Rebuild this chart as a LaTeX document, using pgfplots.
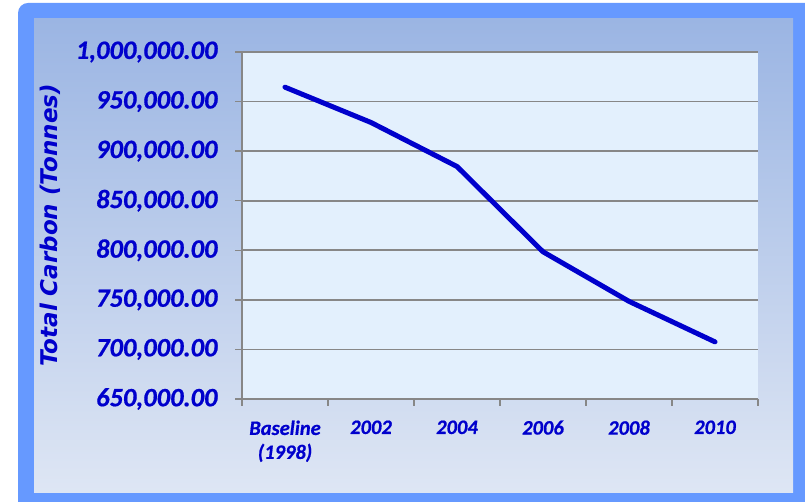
\documentclass[border=0pt]{standalone}
\usepackage{fontspec}
\usepackage{pgfplots}
\pgfplotsset{compat=1.18}
\setmainfont{Carlito}
\newfontfamily\tickfont[FakeBold=0.7]{Carlito Bold Italic}
\newfontfamily\dejavu[BoldFont={DejaVu Sans Bold},ItalicFont={DejaVu Sans Oblique},BoldItalicFont={DejaVu Sans Bold Oblique}]{DejaVu Sans}
\definecolor{outerblue}{HTML}{6699FF}
\definecolor{bgtop}{HTML}{9BB5E3}
\definecolor{bgbot}{HTML}{DEE6F4}
\definecolor{plotbg}{HTML}{E3F0FD}
\definecolor{dblue}{HTML}{0000CC}
\definecolor{gridgray}{HTML}{878787}
\begin{document}
\begin{tikzpicture}[x=1pt,y=1pt]
\useasboundingbox (0,0) rectangle (805,502);
\begin{scope}
\clip (0,0) rectangle (805,502);
\fill[outerblue, rounded corners=10pt] (18,-20) rectangle (830,499);
\end{scope}
\shade[top color=bgtop, bottom color=bgbot] (34,9.3) rectangle (793,483);
\begin{axis}[
  at={(242pt,103pt)}, anchor=south west,
  scale only axis, width=516pt, height=347pt,
  xmin=-0.5, xmax=5.5, ymin=650000, ymax=1000000,
  ytick distance=50000,
  xtick={-0.5,0.5,1.5,2.5,3.5,4.5,5.5},
  x tick label as interval,
  xticklabels={{Baseline\\(1998)},2002,2004,2006,2008,2010},
  scaled y ticks=false,
  axis x line*=bottom, axis y line*=left,
  axis line style={gridgray, line width=1.5pt},
  every tick/.style={gridgray, line width=1.5pt},
  tick align=outside,
  major tick length=7pt,
  ymajorgrids,
  major grid style={gridgray, line width=1.8pt},
  axis background/.style={fill=plotbg},
  /pgf/number format/.cd, fixed, fixed zerofill, precision=2, 1000 sep={,}, assume math mode=true,
  /pgfplots/.cd,
  yticklabel style={font=\tickfont\fontsize{26.5}{30}\selectfont, text=dblue, xshift=-14pt},
  xticklabel style={font=\tickfont\fontsize{20.5}{24}\selectfont, text=dblue, align=center, yshift=-11pt},
  ylabel={Total Carbon (Tonnes)},
  ylabel style={font=\dejavu\fontsize{23}{26}\selectfont\bfseries\itshape, text=dblue, at={(axis description cs:-0.372,0.5)}, anchor=center},
  clip=false,
]
\addplot[dblue, line width=5pt, line cap=round, line join=round] coordinates {
  (0,964500) (1,928900) (2,884500) (3,798500) (4,748500) (5,707600)
};
\end{axis}
\end{tikzpicture}
\end{document}
